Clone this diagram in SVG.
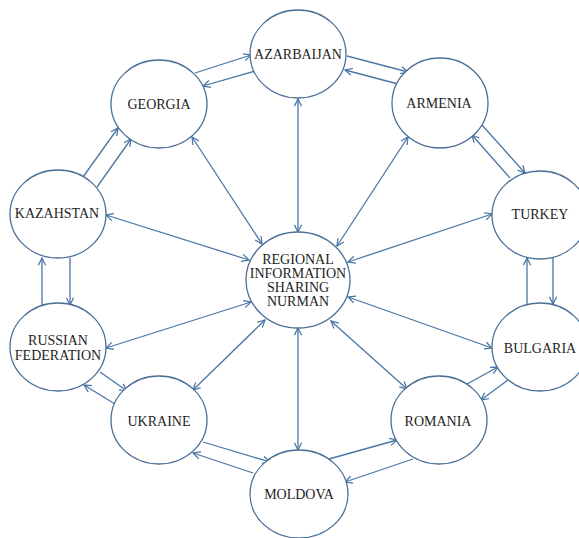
<svg xmlns="http://www.w3.org/2000/svg" width="579" height="538" viewBox="0 0 579 538">
<style>
.n ellipse{fill:#fff;stroke:#4b6f96;stroke-width:1.3}
.n text{font-family:"Liberation Serif","Times New Roman",serif;font-size:14px;fill:#1e1e1e;text-anchor:middle}
#edges line{stroke:#4a76a6;stroke-width:1.3;fill:none}
.b{marker-start:url(#ah);marker-end:url(#ah)}
.s{marker-end:url(#ah)}
</style>
<defs>
<marker id="ah" viewBox="0 0 10 10" refX="9" refY="5" markerWidth="9" markerHeight="9" markerUnits="userSpaceOnUse" orient="auto-start-reverse">
<path d="M1,1 L9,5 L1,9" fill="none" stroke="#4a76a6" stroke-width="1.4"/>
</marker>
</defs>
<rect width="579" height="538" fill="#fff"/>
<g id="edges">
<line class="b" x1="298" y1="99" x2="298" y2="232"/>
<line class="b" x1="192" y1="137" x2="262" y2="244"/>
<line class="b" x1="408" y1="137" x2="337" y2="246"/>
<line class="b" x1="106" y1="215" x2="249" y2="260"/>
<line class="b" x1="492" y1="214" x2="348" y2="262"/>
<line class="b" x1="106" y1="348" x2="251" y2="302"/>
<line class="b" x1="348" y1="297" x2="492" y2="348"/>
<line class="b" x1="193" y1="390" x2="265" y2="320"/>
<line class="b" x1="331" y1="321" x2="407" y2="389"/>
<line class="b" x1="298" y1="328" x2="298" y2="450"/>
<line class="s" x1="195" y1="73" x2="251" y2="55"/>
<line class="s" x1="262" y1="69" x2="203" y2="86"/>
<line class="s" x1="347" y1="56" x2="408" y2="72"/>
<line class="s" x1="398" y1="84" x2="345" y2="70"/>
<line class="s" x1="482" y1="125" x2="525" y2="173"/>
<line class="s" x1="510" y1="178" x2="472" y2="135"/>
<line class="s" x1="527" y1="305" x2="527" y2="258"/>
<line class="s" x1="553" y1="258" x2="553" y2="304"/>
<line class="s" x1="467" y1="384" x2="498" y2="367"/>
<line class="s" x1="508" y1="380" x2="481" y2="400"/>
<line class="s" x1="329" y1="459" x2="397" y2="440"/>
<line class="s" x1="413" y1="459" x2="345" y2="482"/>
<line class="s" x1="203" y1="442" x2="270" y2="462"/>
<line class="s" x1="253" y1="473" x2="193" y2="453"/>
<line class="s" x1="100" y1="372" x2="127" y2="391"/>
<line class="s" x1="115" y1="404" x2="84" y2="385"/>
<line class="s" x1="42" y1="305" x2="42" y2="258"/>
<line class="s" x1="70" y1="258" x2="70" y2="305"/>
<line class="s" x1="83" y1="177" x2="118" y2="128"/>
<line class="s" x1="97" y1="187" x2="131" y2="139"/>
</g>
<g id="center" class="n"><ellipse cx="298" cy="280" rx="52" ry="48"/>
<text x="298" y="264">REGIONAL</text><text x="298" y="278">INFORMATION</text><text x="298" y="292">SHARING</text><text x="298" y="306">NURMAN</text></g>
<g id="azarbaijan" class="n"><ellipse cx="298" cy="54" rx="48" ry="44"/><text x="298" y="59">AZARBAIJAN</text></g>
<g id="georgia" class="n"><ellipse cx="159" cy="104" rx="48" ry="44"/><text x="159" y="109">GEORGIA</text></g>
<g id="armenia" class="n"><ellipse cx="440" cy="103" rx="48" ry="45"/><text x="439" y="108">ARMENIA</text></g>
<g id="kazahstan" class="n"><ellipse cx="58" cy="214" rx="48" ry="44"/><text x="57" y="218">KAZAHSTAN</text></g>
<g id="turkey" class="n"><ellipse cx="540" cy="215" rx="48" ry="44"/><text x="540" y="219">TURKEY</text></g>
<g id="russia" class="n"><ellipse cx="58" cy="347" rx="48" ry="44"/><text x="58" y="345">RUSSIAN</text><text x="58" y="360">FEDERATION</text></g>
<g id="bulgaria" class="n"><ellipse cx="540" cy="347" rx="48" ry="44"/><text x="540" y="353">BULGARIA</text></g>
<g id="ukraine" class="n"><ellipse cx="159" cy="420" rx="48" ry="44"/><text x="159" y="426">UKRAINE</text></g>
<g id="romania" class="n"><ellipse cx="439" cy="420" rx="48" ry="44"/><text x="438" y="426">ROMANIA</text></g>
<g id="moldova" class="n"><ellipse cx="299" cy="494" rx="49" ry="44"/><text x="299" y="499">MOLDOVA</text></g>
</svg>
